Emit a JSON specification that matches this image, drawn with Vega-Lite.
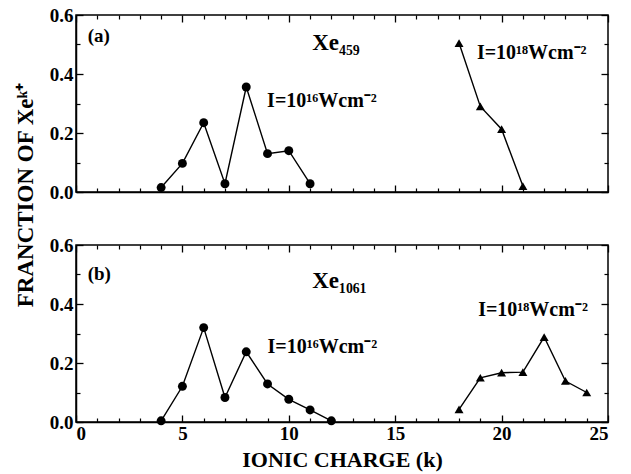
{
  "$schema": "https://vega.github.io/schema/vega-lite/v6.json",
  "background": "white",
  "padding": {"left": 14, "top": 5, "right": 3, "bottom": 3},
  "title": {"text": "FRANCTION OF Xeᵏ⁺", "orient": "left", "anchor": "middle", "font": "Liberation Serif", "fontSize": 23, "fontWeight": "bold", "color": "black", "offset": 11, "dx": 43},
  "datasets": {
    "pts": [
      {"panel": "a", "series": "I16", "k": 4, "frac": 0.015},
      {"panel": "a", "series": "I16", "k": 5, "frac": 0.097},
      {"panel": "a", "series": "I16", "k": 6, "frac": 0.235},
      {"panel": "a", "series": "I16", "k": 7, "frac": 0.028},
      {"panel": "a", "series": "I16", "k": 8, "frac": 0.356},
      {"panel": "a", "series": "I16", "k": 9, "frac": 0.13},
      {"panel": "a", "series": "I16", "k": 10, "frac": 0.14},
      {"panel": "a", "series": "I16", "k": 11, "frac": 0.028},
      {"panel": "a", "series": "I18", "k": 18, "frac": 0.505},
      {"panel": "a", "series": "I18", "k": 19, "frac": 0.29},
      {"panel": "a", "series": "I18", "k": 20, "frac": 0.213},
      {"panel": "a", "series": "I18", "k": 21, "frac": 0.02},
      {"panel": "b", "series": "I16", "k": 4, "frac": 0.004},
      {"panel": "b", "series": "I16", "k": 5, "frac": 0.121},
      {"panel": "b", "series": "I16", "k": 6, "frac": 0.32},
      {"panel": "b", "series": "I16", "k": 7, "frac": 0.083},
      {"panel": "b", "series": "I16", "k": 8, "frac": 0.238},
      {"panel": "b", "series": "I16", "k": 9, "frac": 0.129},
      {"panel": "b", "series": "I16", "k": 10, "frac": 0.077},
      {"panel": "b", "series": "I16", "k": 11, "frac": 0.041},
      {"panel": "b", "series": "I16", "k": 12, "frac": 0.004},
      {"panel": "b", "series": "I18", "k": 18, "frac": 0.043},
      {"panel": "b", "series": "I18", "k": 19, "frac": 0.15},
      {"panel": "b", "series": "I18", "k": 20, "frac": 0.167},
      {"panel": "b", "series": "I18", "k": 21, "frac": 0.169},
      {"panel": "b", "series": "I18", "k": 22, "frac": 0.288},
      {"panel": "b", "series": "I18", "k": 23, "frac": 0.139},
      {"panel": "b", "series": "I18", "k": 24, "frac": 0.1}
    ],
    "notes": [
      {"panel": "a", "k": 0.55, "frac": 0.51, "label": "(a)", "size": 19},
      {"panel": "a", "k": 11.1, "frac": 0.48, "label": "Xe₄₅₉", "size": 23},
      {"panel": "a", "k": 8.98, "frac": 0.288, "label": "I=10¹⁶Wcm⁻²", "size": 20},
      {"panel": "a", "k": 18.84, "frac": 0.45, "label": "I=10¹⁸Wcm⁻²", "size": 20},
      {"panel": "b", "k": 0.55, "frac": 0.48, "label": "(b)", "size": 19},
      {"panel": "b", "k": 11.1, "frac": 0.453, "label": "Xe₁₀₆₁", "size": 23},
      {"panel": "b", "k": 9.0, "frac": 0.235, "label": "I=10¹⁶Wcm⁻²", "size": 20},
      {"panel": "b", "k": 18.9, "frac": 0.36, "label": "I=10¹⁸Wcm⁻²", "size": 20}
    ]
  },
  "config": {
    "view": {"stroke": "black", "strokeWidth": 1.5},
    "axis": {
      "labelFont": "Liberation Serif", "labelFontWeight": "bold", "labelFontSize": 19, "labelColor": "black",
      "titleFont": "Liberation Serif", "titleFontWeight": "bold", "titleFontSize": 22, "titleColor": "black",
      "domainColor": "black", "domainWidth": 1.5, "tickColor": "black", "tickOpacity": 1, "grid": false
    },
    "text": {"font": "Liberation Serif", "fontWeight": "bold", "color": "black", "align": "left", "baseline": "alphabetic"}
  },
  "spacing": 53,
  "bounds": "flush",
  "vconcat": [
    {
      "width": 532, "height": 177,
      "resolve": {"axis": {"x": "independent", "y": "independent"}},
      "layer": [
        {
          "encoding": {
            "x": {"field": "k", "type": "quantitative", "scale": {"domain": [0, 25], "nice": false},
              "axis": {"orient": "bottom", "title": null, "values": [0,5,10,15,20,25], "labels": false, "ticks": false}},
            "y": {"field": "frac", "type": "quantitative", "scale": {"domain": [0, 0.6], "nice": false},
              "axis": {"orient": "left", "title": null, "values": [0,0.2,0.4,0.6], "format": ".1f", "ticks": false, "labelPadding": 3}}
          },
          "layer": [
            {"data": {"name": "pts"}, "transform": [{"filter": "datum.panel === 'a'"}],
             "mark": {"type": "line", "color": "black", "strokeWidth": 1.4},
             "encoding": {"detail": {"field": "series"}}},
            {"data": {"name": "pts"}, "transform": [{"filter": "datum.panel === 'a'"}],
             "mark": {"type": "point", "filled": true, "color": "black", "size": 80, "opacity": 1},
             "encoding": {"shape": {"field": "series", "type": "nominal", "scale": {"domain": ["I16", "I18"], "range": ["circle", "triangle-up"]}, "legend": null}}},
            {"data": {"name": "notes"}, "transform": [{"filter": "datum.panel === 'a'"}],
             "mark": {"type": "text"},
             "encoding": {"text": {"field": "label"}, "size": {"field": "size", "type": "quantitative", "scale": null}}}
          ]
        },
        {
          "data": {"name": "pts"}, "transform": [{"filter": "datum.panel === 'a'"}],
          "mark": {"type": "point", "opacity": 0},
          "encoding": {
            "x": {"field": "k", "type": "quantitative", "axis": {"orient": "bottom", "title": null, "values": [0,5,10,15,20,25], "labels": false, "ticks": true, "tickSize": -7, "tickWidth": 1.3, "domain": false, "zindex": 2}},
            "y": {"field": "frac", "type": "quantitative", "axis": {"orient": "left", "title": null, "values": [0,0.2,0.4,0.6], "labels": false, "ticks": true, "tickSize": -7, "tickWidth": 1.3, "domain": false, "zindex": 2}}
          }
        },
        {
          "data": {"name": "pts"}, "transform": [{"filter": "datum.panel === 'a'"}],
          "mark": {"type": "point", "opacity": 0},
          "encoding": {
            "x": {"field": "k", "type": "quantitative", "axis": {"orient": "bottom", "title": null, "values": [1,2,3,4,6,7,8,9,11,12,13,14,16,17,18,19,21,22,23,24], "labels": false, "ticks": true, "tickSize": -4, "tickWidth": 1.2, "domain": false, "zindex": 2}},
            "y": {"field": "frac", "type": "quantitative", "axis": {"orient": "left", "title": null, "values": [0.1,0.3,0.5], "labels": false, "ticks": true, "tickSize": -4, "tickWidth": 1.2, "domain": false, "zindex": 2}}
          }
        },
        {
          "data": {"name": "pts"}, "transform": [{"filter": "datum.panel === 'a'"}],
          "mark": {"type": "point", "opacity": 0},
          "encoding": {
            "x": {"field": "k", "type": "quantitative", "axis": {"orient": "top", "title": null, "values": [0,5,10,15,20,25], "labels": false, "ticks": true, "tickSize": -7, "tickWidth": 1.3, "domain": false, "zindex": 2}},
            "y": {"field": "frac", "type": "quantitative", "axis": {"orient": "right", "title": null, "values": [0,0.2,0.4,0.6], "labels": false, "ticks": true, "tickSize": -7, "tickWidth": 1.3, "domain": false, "zindex": 2}}
          }
        },
        {
          "data": {"name": "pts"}, "transform": [{"filter": "datum.panel === 'a'"}],
          "mark": {"type": "point", "opacity": 0},
          "encoding": {
            "x": {"field": "k", "type": "quantitative", "axis": {"orient": "top", "title": null, "values": [1,2,3,4,6,7,8,9,11,12,13,14,16,17,18,19,21,22,23,24], "labels": false, "ticks": true, "tickSize": -4, "tickWidth": 1.2, "domain": false, "zindex": 2}},
            "y": {"field": "frac", "type": "quantitative", "axis": {"orient": "right", "title": null, "values": [0.1,0.3,0.5], "labels": false, "ticks": true, "tickSize": -4, "tickWidth": 1.2, "domain": false, "zindex": 2}}
          }
        }
      ]
    },
    {
      "width": 532, "height": 177,
      "resolve": {"axis": {"x": "independent", "y": "independent"}},
      "layer": [
        {
          "encoding": {
            "x": {"field": "k", "type": "quantitative", "scale": {"domain": [0, 25], "nice": false},
              "axis": {"orient": "bottom", "title": "IONIC CHARGE (k)", "values": [0,5,10,15,20,25], "ticks": false, "labelPadding": 2, "titlePadding": 6}},
            "y": {"field": "frac", "type": "quantitative", "scale": {"domain": [0, 0.6], "nice": false},
              "axis": {"orient": "left", "title": null, "values": [0,0.2,0.4,0.6], "format": ".1f", "ticks": false, "labelPadding": 3}}
          },
          "layer": [
            {"data": {"name": "pts"}, "transform": [{"filter": "datum.panel === 'b'"}],
             "mark": {"type": "line", "color": "black", "strokeWidth": 1.4},
             "encoding": {"detail": {"field": "series"}}},
            {"data": {"name": "pts"}, "transform": [{"filter": "datum.panel === 'b'"}],
             "mark": {"type": "point", "filled": true, "color": "black", "size": 80, "opacity": 1},
             "encoding": {"shape": {"field": "series", "type": "nominal", "scale": {"domain": ["I16", "I18"], "range": ["circle", "triangle-up"]}, "legend": null}}},
            {"data": {"name": "notes"}, "transform": [{"filter": "datum.panel === 'b'"}],
             "mark": {"type": "text"},
             "encoding": {"text": {"field": "label"}, "size": {"field": "size", "type": "quantitative", "scale": null}}}
          ]
        },
        {
          "data": {"name": "pts"}, "transform": [{"filter": "datum.panel === 'b'"}],
          "mark": {"type": "point", "opacity": 0},
          "encoding": {
            "x": {"field": "k", "type": "quantitative", "axis": {"orient": "bottom", "title": null, "values": [0,5,10,15,20,25], "labels": false, "ticks": true, "tickSize": -7, "tickWidth": 1.3, "domain": false, "zindex": 2}},
            "y": {"field": "frac", "type": "quantitative", "axis": {"orient": "left", "title": null, "values": [0,0.2,0.4,0.6], "labels": false, "ticks": true, "tickSize": -7, "tickWidth": 1.3, "domain": false, "zindex": 2}}
          }
        },
        {
          "data": {"name": "pts"}, "transform": [{"filter": "datum.panel === 'b'"}],
          "mark": {"type": "point", "opacity": 0},
          "encoding": {
            "x": {"field": "k", "type": "quantitative", "axis": {"orient": "bottom", "title": null, "values": [1,2,3,4,6,7,8,9,11,12,13,14,16,17,18,19,21,22,23,24], "labels": false, "ticks": true, "tickSize": -4, "tickWidth": 1.2, "domain": false, "zindex": 2}},
            "y": {"field": "frac", "type": "quantitative", "axis": {"orient": "left", "title": null, "values": [0.1,0.3,0.5], "labels": false, "ticks": true, "tickSize": -4, "tickWidth": 1.2, "domain": false, "zindex": 2}}
          }
        },
        {
          "data": {"name": "pts"}, "transform": [{"filter": "datum.panel === 'b'"}],
          "mark": {"type": "point", "opacity": 0},
          "encoding": {
            "x": {"field": "k", "type": "quantitative", "axis": {"orient": "top", "title": null, "values": [0,5,10,15,20,25], "labels": false, "ticks": true, "tickSize": -7, "tickWidth": 1.3, "domain": false, "zindex": 2}},
            "y": {"field": "frac", "type": "quantitative", "axis": {"orient": "right", "title": null, "values": [0,0.2,0.4,0.6], "labels": false, "ticks": true, "tickSize": -7, "tickWidth": 1.3, "domain": false, "zindex": 2}}
          }
        },
        {
          "data": {"name": "pts"}, "transform": [{"filter": "datum.panel === 'b'"}],
          "mark": {"type": "point", "opacity": 0},
          "encoding": {
            "x": {"field": "k", "type": "quantitative", "axis": {"orient": "top", "title": null, "values": [1,2,3,4,6,7,8,9,11,12,13,14,16,17,18,19,21,22,23,24], "labels": false, "ticks": true, "tickSize": -4, "tickWidth": 1.2, "domain": false, "zindex": 2}},
            "y": {"field": "frac", "type": "quantitative", "axis": {"orient": "right", "title": null, "values": [0.1,0.3,0.5], "labels": false, "ticks": true, "tickSize": -4, "tickWidth": 1.2, "domain": false, "zindex": 2}}
          }
        }
      ]
    }
  ]
}
